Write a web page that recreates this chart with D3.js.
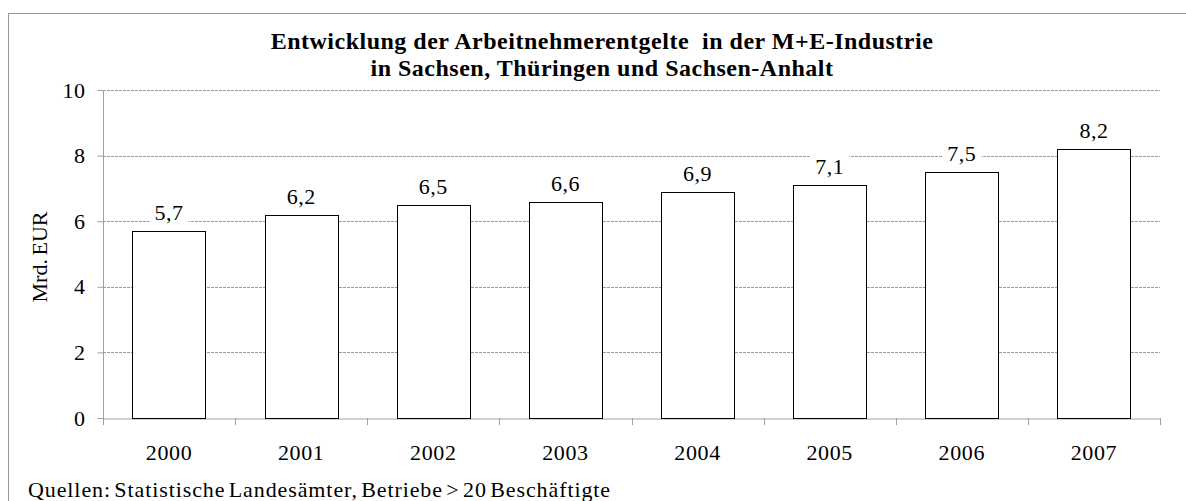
<!DOCTYPE html>
<html><head><meta charset="utf-8">
<script src="https://cdn.jsdelivr.net/npm/d3@7"></script>
<style>body{margin:0;background:#fff;} svg text{font-family:"Liberation Serif","Times New Roman",serif !important;}</style>
</head><body>
<svg id="c" width="1186" height="501"></svg>
<script>
const categories = ["2000","2001","2002","2003","2004","2005","2006","2007"];
const values = [5.7, 6.2, 6.5, 6.6, 6.9, 7.1, 7.5, 8.2];
const yTicks = [0, 2, 4, 6, 8, 10];
const titleLines = ["Entwicklung der Arbeitnehmerentgelte  in der M+E-Industrie", "in Sachsen, Thüringen und Sachsen-Anhalt"];
const yLabel = "Mrd. EUR";
const footer = "Quellen: Statistische Landesämter, Betriebe > 20 Beschäftigte";

const svg = d3.select("#c");
const L = 103, R = 1160, T = 90, B = 418;
const x = d3.scaleBand().domain(categories).range([L, R]).paddingInner(0).paddingOuter(0);
const y = d3.scaleLinear().domain([0, 10]).range([B, T]);
const fmt = v => d3.format(".1f")(v).replace(".", ",");
const AX = "#a0a0a0";

// outer border
svg.append("rect").attr("x", 8.5).attr("y", 13.5).attr("width", 1190).attr("height", 500)
  .attr("fill", "none").attr("stroke", "#999").attr("stroke-width", 1);

// gridlines
svg.append("g").selectAll("line").data(yTicks.filter(d => d > 0)).join("line")
  .attr("x1", L).attr("x2", R).attr("y1", d => Math.round(y(d)) + 0.5).attr("y2", d => Math.round(y(d)) + 0.5)
  .attr("stroke", "#9a9a9a").attr("stroke-dasharray", "3,1").attr("stroke-width", 1);

// y axis
const ya = svg.append("g").attr("transform", `translate(${L + 0.5},0)`)
  .call(d3.axisLeft(y).tickValues(yTicks).tickSize(6).tickPadding(12).tickFormat(d3.format("d")));
ya.select(".domain").attr("stroke", AX).attr("d", `M0,${T}V${B}`);
ya.selectAll(".tick line").attr("stroke", AX);
ya.selectAll(".tick text").attr("font-size", 22).attr("fill", "#000").attr("letter-spacing", 0.5);

// x axis
const xa = svg.append("g").attr("transform", `translate(0,${B + 0.5})`)
  .call(d3.axisBottom(x).tickSize(0).tickPadding(26));
xa.select(".domain").attr("stroke", AX);
xa.selectAll(".tick text").attr("font-size", 22).attr("fill", "#000").attr("letter-spacing", 0.6);
svg.append("g").selectAll("line").data(d3.range(categories.length + 1)).join("line")
  .attr("x1", i => Math.round(L + i * x.step()) + 0.5).attr("x2", i => Math.round(L + i * x.step()) + 0.5)
  .attr("y1", B).attr("y2", B + 7).attr("stroke", AX);

// bars
const bw = x.bandwidth() * 0.555;
const data = categories.map((c, i) => ({c, v: values[i]}));
svg.append("g").selectAll("rect").data(data).join("rect")
  .attr("x", d => Math.round(x(d.c) + (x.bandwidth() - bw) / 2) + 0.5)
  .attr("y", d => Math.round(y(d.v)) + 0.5)
  .attr("width", Math.round(bw))
  .attr("height", d => Math.round(B - y(d.v)))
  .attr("fill", "#fff").attr("stroke", "#000").attr("stroke-width", 1);

// value labels with white background
const lg = svg.append("g").selectAll("g").data(data).join("g")
  .attr("transform", d => `translate(${x(d.c) + x.bandwidth() / 2},${y(d.v) - 11})`);
const bg = lg.append("rect").attr("fill", "#fff");
const lt = lg.append("text").attr("text-anchor", "middle").attr("font-size", 22).attr("letter-spacing", 0.5).text(d => fmt(d.v));
lt.each(function(d){
  const b = this.getBBox();
  d3.select(this.previousSibling).attr("x", b.x - 5).attr("y", b.y).attr("width", b.width + 10).attr("height", b.height);
});

// title
svg.append("text").attr("x", 602).attr("y", 49).attr("text-anchor", "middle")
  .attr("font-size", 24).attr("font-weight", "bold").attr("letter-spacing", 0.5).style("white-space", "pre").text(titleLines[0]);
svg.append("text").attr("x", 602).attr("y", 76).attr("text-anchor", "middle")
  .attr("font-size", 24).attr("font-weight", "bold").attr("letter-spacing", 0.5).text(titleLines[1]);

// y label
svg.append("text").attr("transform", `translate(47,257) rotate(-90)`).attr("text-anchor", "middle")
  .attr("font-size", 22).attr("word-spacing", -2).text(yLabel);

// footer
svg.append("text").attr("x", 28).attr("y", 497).attr("font-size", 22).attr("letter-spacing", 0.9).attr("word-spacing", -3).text(footer);
</script>
</body></html>
